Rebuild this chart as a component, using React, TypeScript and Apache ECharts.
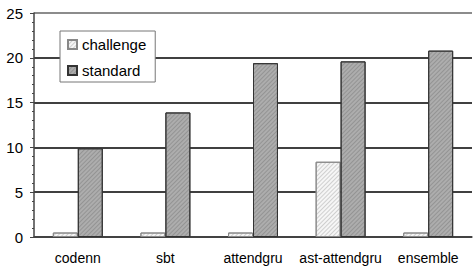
import React, { useEffect, useRef } from "react";
import * as echarts from "echarts";

const categories = ["codenn", "sbt", "attendgru", "ast-attendgru", "ensemble"];
const challengeValues = [0.5, 0.5, 0.5, 8.4, 0.5];
const standardValues = [9.9, 13.9, 19.4, 19.6, 20.8];
const seriesNames = ["challenge", "standard"];

export default function App() {
  const ref = useRef<HTMLDivElement>(null);
  useEffect(() => {
    if (!ref.current) return;
    const chart = echarts.init(ref.current, null, { renderer: "svg" });
    const font = "'Liberation Sans', Arial, sans-serif";
    chart.setOption({
      animation: false,
      backgroundColor: "#fff",
      grid: { left: 34, right: 1, top: 13, bottom: 29 },
      legend: {
        orient: "vertical",
        left: 60,
        top: 31,
        padding: [6, 9, 4, 7],
        itemGap: 11,
        itemWidth: 9,
        itemHeight: 9,
        icon: "rect",
        borderColor: "#777",
        borderWidth: 1,
        backgroundColor: "#fff",
        textStyle: { fontFamily: font, fontSize: 15, color: "#000", lineHeight: 15 },
        data: seriesNames,
      },
      xAxis: {
        type: "category",
        data: categories,
        axisLine: { lineStyle: { color: "#444", width: 1.5 } },
        axisTick: { show: false },
        axisLabel: { interval: 0, fontFamily: font, fontSize: 14, color: "#000", margin: 14 },
      },
      yAxis: {
        type: "value",
        min: 0,
        max: 25,
        interval: 5,
        axisLine: { show: true, lineStyle: { color: "#444", width: 1.5 } },
        axisTick: { show: true, length: 4, lineStyle: { color: "#444" } },
        minorTick: { show: true, splitNumber: 5, length: 2, lineStyle: { color: "#444" } },
        splitLine: {
          lineStyle: { color: ["#000", "#000", "#000", "#000", "#000", "#666"], width: 1.5 },
        },
        axisLabel: { fontFamily: font, fontSize: 15, color: "#000", margin: 11 },
      },
      series: [
        {
          name: seriesNames[0],
          type: "bar",
          data: challengeValues,
          barGap: "0%",
          barCategoryGap: "43%",
          itemStyle: {
            color: "#f6f6f6",
            borderColor: "#888",
            borderWidth: 1,
            decal: {
              symbol: "rect",
              symbolSize: 1,
              dashArrayX: [1, 0],
              dashArrayY: [1, 2],
              rotation: -Math.PI / 4,
              color: "rgba(160,160,160,0.45)",
            },
          },
        },
        {
          name: seriesNames[1],
          type: "bar",
          data: standardValues,
          barGap: "0%",
          barCategoryGap: "43%",
          itemStyle: {
            color: "#adadad",
            borderColor: "#333",
            borderWidth: 1,
            decal: {
              symbol: "rect",
              symbolSize: 1,
              dashArrayX: [1, 0],
              dashArrayY: [1, 2],
              rotation: -Math.PI / 4,
              color: "rgba(100,100,100,0.35)",
            },
          },
        },
      ],
    });
    return () => chart.dispose();
  }, []);
  return <div ref={ref} style={{ width: 473, height: 266, position: "fixed", left: 0, top: 0 }} />;
}
